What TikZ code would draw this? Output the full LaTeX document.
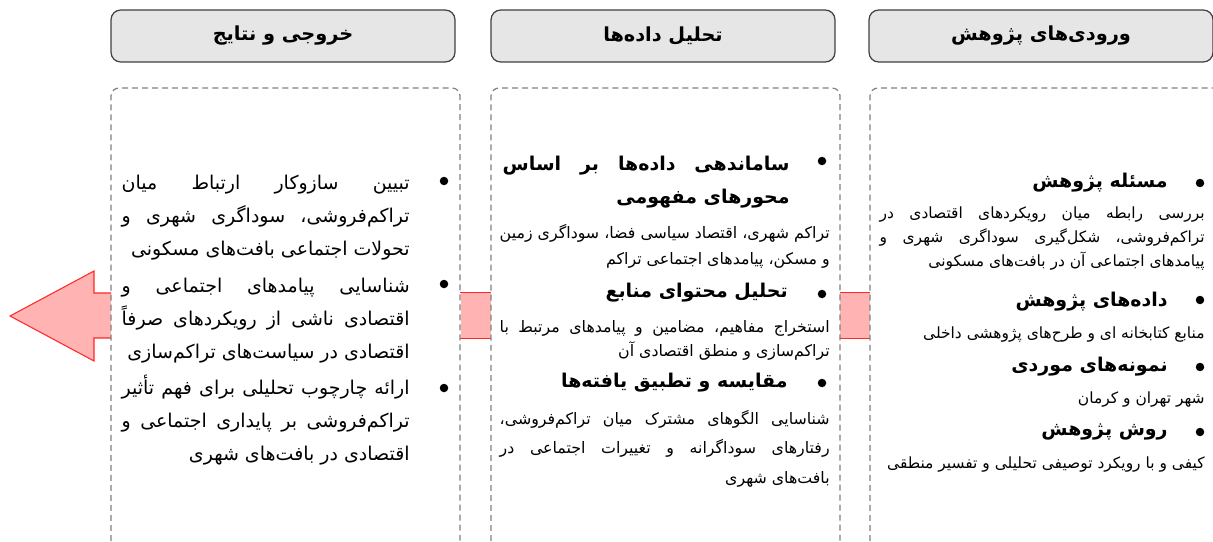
\documentclass[tikz,border=0pt]{standalone}
\usepackage{fontspec}
\newfontfamily\farsi[Script=Arabic]{DejaVu Sans}
\TeXXeTstate=1
\usetikzlibrary{positioning}
\definecolor{headgray}{RGB}{230,230,230}
\definecolor{headline}{RGB}{64,64,64}
\definecolor{dashgray}{RGB}{128,128,128}
\definecolor{linkpink}{RGB}{255,179,179}
\definecolor{linkred}{RGB}{255,40,40}

% one right-to-left paragraph, last line set flush right
\newcommand{\fapar}[1]{\noindent\parfillskip=0pt\relax\beginR #1\hfill\endR}

\tikzset{
  headbox/.style={draw=headline, fill=headgray, rounded corners=5.5pt, line width=0.7pt,
    minimum width=6.88cm, minimum height=1.04cm,
    font=\farsi\bfseries\fontsize{11}{14}\selectfont},
  frame/.style={draw=dashgray, line width=0.7pt, dash pattern=on 3.4pt off 2.3pt, rounded corners=4.5pt},
  linkbox/.style={fill=linkpink, minimum width=0.6cm, minimum height=0.9cm, inner sep=0pt},
  linkline/.style={draw=linkred, line width=0.6pt},
  dot/.style={circle, fill=black, inner sep=0pt, minimum size=0.17cm},
  itemhead/.style={inner sep=0pt, anchor=east, font=\farsi\bfseries\fontsize{10.8}{19.3}\selectfont},
  itemtext/.style={inner sep=0pt, font=\farsi\fontsize{8.8}{13.7}\selectfont},
  midtext/.style={inner sep=0pt, anchor=base east, text width=6.6cm, align=justify},
  outtext/.style={inner sep=0pt, anchor=base east, text width=5.76cm, align=justify,
    font=\farsi\fontsize{10.8}{18.9}\selectfont}
}

\begin{document}
\begin{tikzpicture}[x=0.02cm,y=-0.02cm]
    \useasboundingbox (0,0) rectangle (1213,541);

    % Links between the columns
    \node[linkbox] (l1) at (855,315.5) {};
    \node[linkbox] (l2) at (475.5,315.5) {};
    \draw[linkline] (l1.north west) -- (l1.north east) (l1.south west) -- (l1.south east);
    \draw[linkline] (l2.north west) -- (l2.north east) (l2.south west) -- (l2.south east);
    \filldraw[fill=linkpink, draw=linkred, line width=0.6pt] (111,293) -- (94,293) -- (94,271) -- (10,316) -- (94,361) -- (94,338) -- (111,338);

    % Frames
    \draw[frame] (111,541) -- (111,88) -- (460,88) -- (460,541);
    \draw[frame] (491,541) -- (491,88) -- (840,88) -- (840,541);
    \draw[frame] (870,541) -- (870,88) -- (1215,88);

    % Headers
    \node[headbox] (hout) at (283,36) {\beginR خروجی و نتایج\endR};
    \node[headbox] (hana) at (663,36) {\beginR تحلیل داده‌ها\endR};
    \node[headbox] (hinp) at (1041,36) {\beginR ورودی‌های پژوهش\endR};

    % Inputs
    \node[dot] (ib1) at (1200,183) {};
    \node[itemhead] (ih1) at (1168,183) {\beginR مسئله پژوهش\endR};
    \node[itemtext, anchor=base east, text width=6.5cm, align=justify] (it1) at (1205,218)
        {\fapar{بررسی رابطه میان رویکردهای اقتصادی در\linebreak تراکم‌فروشی، شکل‌گیری سوداگری شهری و\linebreak پیامدهای اجتماعی آن در بافت‌های مسکونی}};
    \node[dot] (ib2) at (1200,300) {};
    \node[itemhead] (ih2) at (1168,302) {\beginR داده‌های پژوهش\endR};
    \node[itemtext, anchor=east] (it2) at (1205,335) {\beginR منابع کتابخانه ای و طرح‌های پژوهشی داخلی\endR};
    \node[dot] (ib3) at (1200,367) {};
    \node[itemhead] (ih3) at (1168,367) {\beginR نمونه‌های موردی\endR};
    \node[itemtext, anchor=east] (it3) at (1205,400) {\beginR شهر تهران و کرمان\endR};
    \node[dot] (ib4) at (1200,432) {};
    \node[itemhead] (ih4) at (1168,432) {\beginR روش پژوهش\endR};
    \node[itemtext, anchor=east] (it4) at (1205,465) {\beginR کیفی و با رویکرد توصیفی تحلیلی و تفسیر منطقی\endR};

    % Analysis
    \node[dot] (ab1) at (822,161) {};
    \node[itemhead, anchor=base east, text width=5.74cm, align=justify] (ah1) at (790,170)
        {\fapar{ساماندهی داده‌ها بر اساس\linebreak محورهای مفهومی}};
    \node[midtext, font=\farsi\fontsize{9}{15}\selectfont] (at1) at (830,238)
        {\fapar{تراکم شهری، اقتصاد سیاسی فضا، سوداگری زمین\linebreak و مسکن، پیامدهای اجتماعی تراکم}};
    \node[dot] (ab2) at (822,294) {};
    \node[itemhead] (ah2) at (788,293) {\beginR تحلیل محتوای منابع\endR};
    \node[midtext, font=\farsi\fontsize{9}{14.2}\selectfont] (at2) at (830,332)
        {\fapar{استخراج مفاهیم، مضامین و پیامدهای مرتبط با\linebreak تراکم‌سازی و منطق اقتصادی آن}};
    \node[dot] (ab3) at (822,383) {};
    \node[itemhead] (ah3) at (788,383) {\beginR مقایسه و تطبیق یافته‌ها\endR};
    \node[midtext, font=\farsi\fontsize{9}{17}\selectfont] (at3) at (830,424)
        {\fapar{شناسایی الگوهای مشترک میان تراکم‌فروشی،\linebreak رفتارهای سوداگرانه و تغییرات اجتماعی در\linebreak بافت‌های شهری}};

    % Outputs
    \node[dot] (ob1) at (444,181) {};
    \node[outtext] (ot1) at (410,189)
        {\fapar{تبیین سازوکار ارتباط میان\linebreak تراکم‌فروشی، سوداگری شهری و\linebreak تحولات اجتماعی بافت‌های مسکونی}};
    \node[dot] (ob2) at (444,284) {};
    \node[outtext] (ot2) at (410,292)
        {\fapar{شناسایی پیامدهای اجتماعی و\linebreak اقتصادی ناشی از رویکردهای صرفاً\linebreak اقتصادی در سیاست‌های تراکم‌سازی}};
    \node[dot] (ob3) at (444,388) {};
    \node[outtext] (ot3) at (410,394)
        {\fapar{ارائه چارچوب تحلیلی برای فهم تأثیر\linebreak تراکم‌فروشی بر پایداری اجتماعی و\linebreak اقتصادی در بافت‌های شهری}};
\end{tikzpicture}
\end{document}
